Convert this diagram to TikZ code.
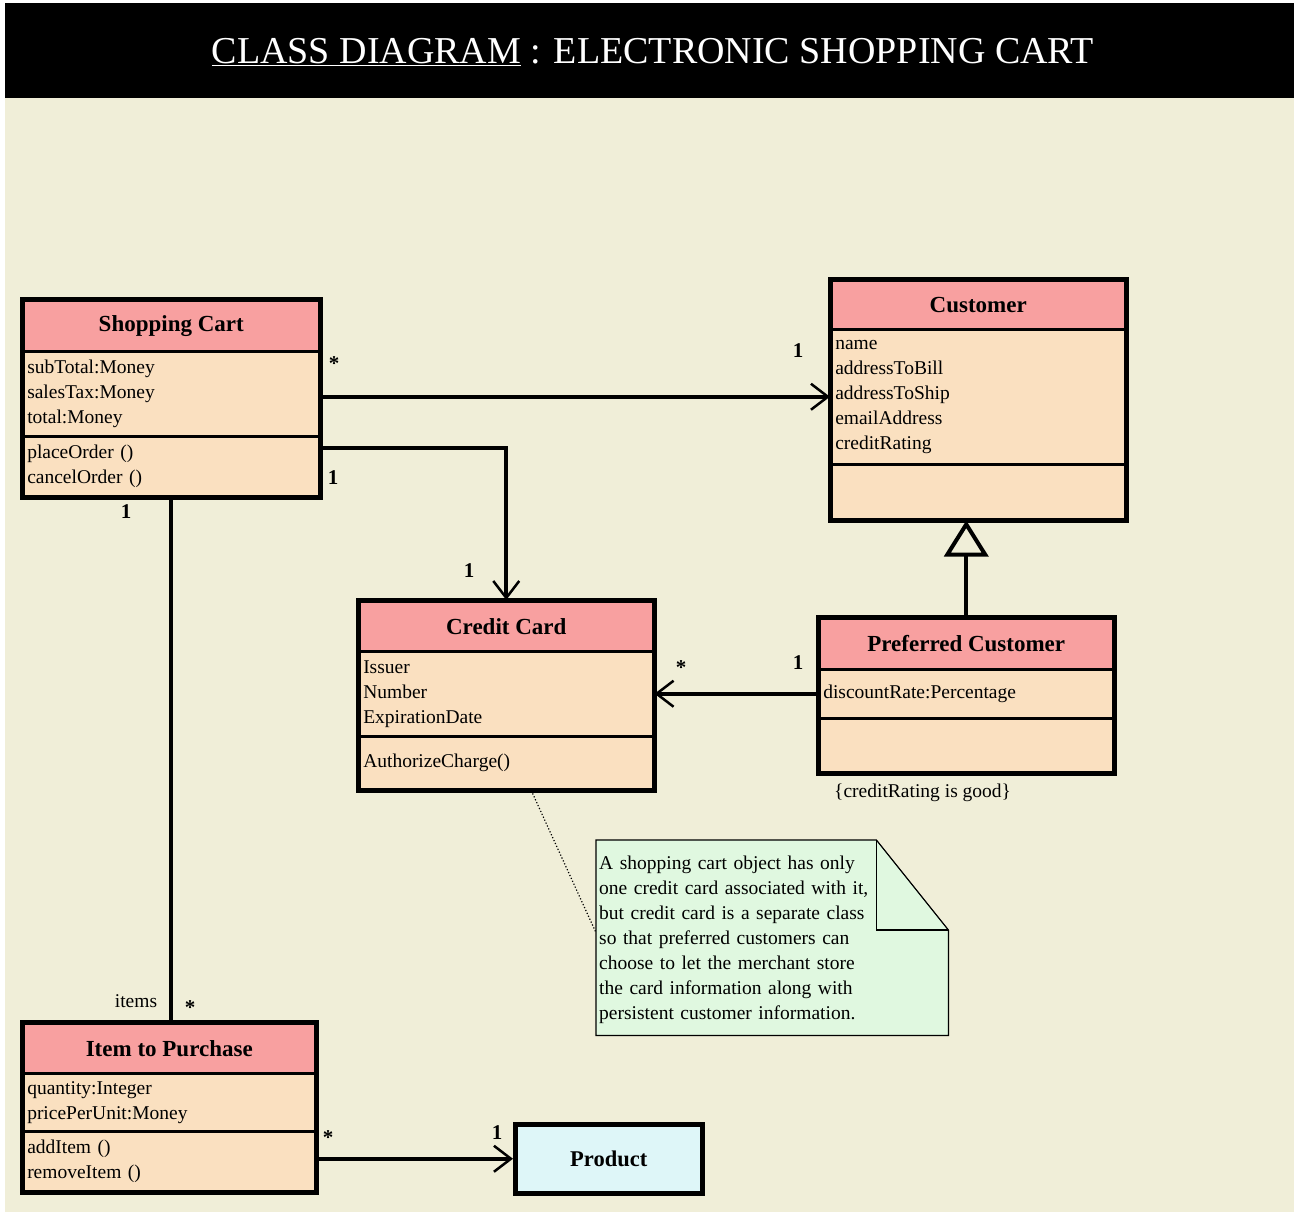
\documentclass[tikz,border=0pt]{standalone}
\usepackage{fontspec}
\setmainfont{Liberation Serif}
\usetikzlibrary{arrows.meta,positioning}
\definecolor{bgbeige}{RGB}{240,238,216}
\definecolor{headpink}{RGB}{248,160,160}
\definecolor{bodypeach}{RGB}{250,224,192}
\definecolor{notegreen}{RGB}{224,248,224}
\definecolor{prodcyan}{RGB}{222,246,248}

\begin{document}
\begin{tikzpicture}[x=1pt, y=-1pt,
    cls/.style={draw, line width=2.5pt, anchor=north west, inner sep=0pt},
    head/.style={cls, fill=headpink, font=\fontsize{23}{27}\selectfont\bfseries},
    body/.style={cls, fill=bodypeach, font=\fontsize{19.5}{25}\selectfont, align=left, inner xsep=4pt},
    frame/.style={line width=4.5pt},
    mult/.style={font=\fontsize{21}{21}\selectfont\bfseries, inner sep=0pt},
    assoc/.style={line width=4pt, -{Straight Barb[length=17pt, width=26pt, line width=2.5pt]}},
    plain/.style={line width=4pt},
    inherit/.style={line width=4pt, -{Triangle[open, length=36pt, width=44pt, line width=4pt]}}]
    \useasboundingbox (0,0) rectangle (1294,1212);
    \fill[white] (0,0) rectangle (1294,1212);
    \fill[bgbeige] (5,3) rectangle (1294,1212);
    \fill[black] (5,3) rectangle (1294,98);
    \node[text=white, font=\fontsize{38}{40}\selectfont] (title) at (653,52)
        {\underline{CLASS DIAGRAM} : ELECTRONIC SHOPPING CART};

    % Shopping Cart
    \node[head, minimum width=296pt, minimum height=51pt] (cart-h) at (22,299) {Shopping Cart};
    \node[body, text width=288pt, minimum height=85pt] (cart-a) at (22,350)
        {subTotal:Money\\salesTax:Money\\total:Money};
    \node[body, text width=288pt, minimum height=60pt] (cart-o) at (22,435)
        {placeOrder ()\\cancelOrder ()};
    \draw[frame] (cart-h.north west) rectangle (cart-o.south east);

    % Customer
    \node[head, minimum width=294pt, minimum height=49pt] (cust-h) at (830,279) {Customer};
    \node[body, text width=286pt, minimum height=135pt] (cust-a) at (830,328)
        {name\\addressToBill\\addressToShip\\emailAddress\\creditRating};
    \node[body, text width=286pt, minimum height=55pt] (cust-o) at (830,463) {};
    \draw[frame] (cust-h.north west) rectangle (cust-o.south east);

    % Credit Card
    \node[head, minimum width=294pt, minimum height=50pt] (card-h) at (358,600) {Credit Card};
    \node[body, text width=286pt, minimum height=85pt] (card-a) at (358,650)
        {Issuer\\Number\\ExpirationDate};
    \node[body, text width=286pt, minimum height=53pt] (card-o) at (358,735)
        {AuthorizeCharge()};
    \draw[frame] (card-h.north west) rectangle (card-o.south east);

    % Preferred Customer
    \node[head, minimum width=294pt, minimum height=51pt] (pref-h) at (818,617) {Preferred Customer};
    \node[body, text width=286pt, minimum height=49pt] (pref-a) at (818,668)
        {discountRate:Percentage};
    \node[body, text width=286pt, minimum height=54pt] (pref-o) at (818,717) {};
    \draw[frame] (pref-h.north west) rectangle (pref-o.south east);
    \node[font=\fontsize{19.5}{25}\selectfont, anchor=west, inner sep=0pt] (cond) at (834,793)
        {\{creditRating is good\}};

    % Item to Purchase
    \node[head, minimum width=292pt, minimum height=50pt] (item-h) at (22,1022) {Item to Purchase};
    \node[body, text width=284pt, minimum height=58pt] (item-a) at (22,1072)
        {quantity:Integer\\pricePerUnit:Money};
    \node[body, text width=284pt, minimum height=60pt] (item-o) at (22,1130)
        {addItem ()\\removeItem ()};
    \draw[frame] (item-h.north west) rectangle (item-o.south east);

    % Product
    \node[cls, frame, fill=prodcyan, minimum width=187pt, minimum height=69pt,
        font=\fontsize{22.5}{27}\selectfont\bfseries] (prod) at (513,1122) {Product};

    % note
    \node[anchor=north west, minimum width=352pt, minimum height=195pt, inner sep=0pt] (note-box) at (596,840) {};
    \filldraw[fill=notegreen, draw=black, line width=1.2pt] (note-box.north west) -- ([xshift=-72pt]note-box.north east)
        -- ([yshift=-90pt]note-box.north east) -- (note-box.south east) -- (note-box.south west) -- cycle;
    \draw[line width=1.2pt] ([xshift=-72pt]note-box.north east) -- ([xshift=-72pt, yshift=-90pt]note-box.north east)
        -- ([yshift=-90pt]note-box.north east);
    \node[inner xsep=3pt, inner ysep=0pt, text width=346pt, align=left,
        font=\fontsize{19.5}{24.9}\selectfont] (note) at ([yshift=-2pt]note-box.center)
        {A shopping cart object has only\\one credit card associated with it,\\but credit card is a separate class\\so that preferred customers can\\choose to let the merchant store\\the card information along with\\persistent customer information.};
    \draw[dotted, line width=1.2pt] ([xshift=25pt]card-o.south) -- ([yshift=5pt]note-box.west);

    % connectors
    \draw[assoc] (cart-a.east |- cust-a.west) -- (cust-a.west);
    \draw[assoc] ([yshift=18pt]cart-o.east) -| (card-h.north);
    \draw[plain] (cart-o.south) -- (cart-o.south |- item-h.north);
    \draw[assoc] (pref-a.west) -- (pref-a.west -| card-a.east);
    \draw[inherit] (pref-h.north) -- (pref-h.north |- cust-o.south);
    \draw[assoc] (item-o.east |- prod.west) -- (prod.west);

    % multiplicities
    \node[mult] (m-cart-cust) at (334,364) {*};
    \node[mult] (m-cust-cart) at (798,351) {1};
    \node[mult] (m-cart-card) at (333,478) {1};
    \node[mult] (m-card-cart) at (469,571) {1};
    \node[mult] (m-cart-item) at (126,512) {1};
    \node[font=\fontsize{19.5}{25}\selectfont, inner sep=0pt] (items) at (136,1001) {items};
    \node[mult] (m-item-cart) at (190,1008) {*};
    \node[mult] (m-card-pref) at (681,668) {*};
    \node[mult] (m-pref-card) at (798,663) {1};
    \node[mult] (m-item-prod) at (328,1138) {*};
    \node[mult] (m-prod-item) at (497,1133) {1};
\end{tikzpicture}
\end{document}
